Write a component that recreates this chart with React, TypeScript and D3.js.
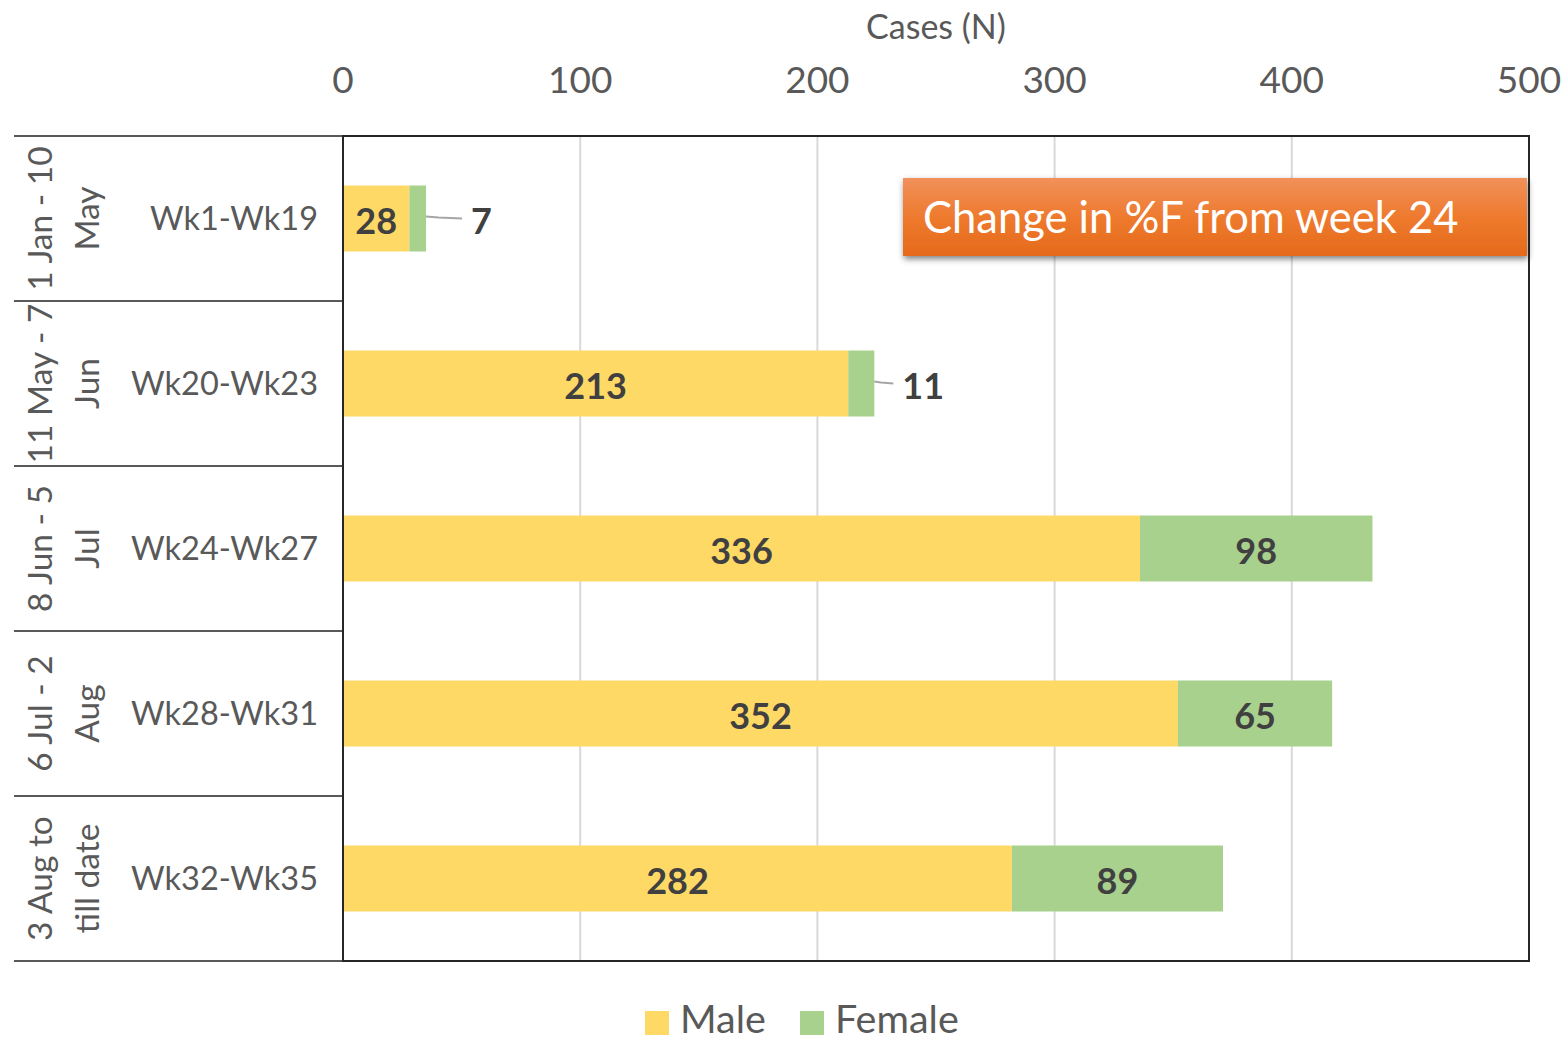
import React from "react";
import * as d3 from "d3";

const weeks = ["Wk1-Wk19", "Wk20-Wk23", "Wk24-Wk27", "Wk28-Wk31", "Wk32-Wk35"];
const periods = [
  ["1 Jan - 10", "May"],
  ["11 May - 7", "Jun"],
  ["8 Jun - 5", "Jul"],
  ["6 Jul - 2", "Aug"],
  ["3 Aug to", "till date"],
];
const male = [28, 213, 336, 352, 282];
const female = [7, 11, 98, 65, 89];
const ticks = [0, 100, 200, 300, 400, 500];
const seriesNames = ["Male", "Female"];
const colors = ["#FFD966", "#A9D18E"];
const annotation = "Change in %F from week 24";
// leader-line lengths (px) for labels placed outside their small segment
const leaderLen = [36, 19, 0, 0, 0];

const W = 1565, H = 1039;
const left = 343, right = 1529, top = 136, bottom = 961;
const FONT = "Lato, 'Open Sans', sans-serif";

export default function App() {
  const x = d3.scaleLinear().domain([0, 500]).range([left, right]);
  const y = d3.scaleBand().domain(weeks).range([top, bottom]).paddingInner(0.6).paddingOuter(0.3);
  const band = d3.scaleBand().domain(weeks).range([top, bottom]);
  const bh = y.bandwidth();
  return (
    <svg width={W} height={H} style={{ position: "absolute", left: 0, top: 0, background: "#fff" }} fontFamily={FONT}>
      <defs>
        <linearGradient id="og" x1="0" y1="0" x2="0" y2="1">
          <stop offset="0" stopColor="#F1915B" />
          <stop offset="0.5" stopColor="#EE7A2E" />
          <stop offset="1" stopColor="#E56A1A" />
        </linearGradient>
        <filter id="sh" x="-5%" y="-20%" width="110%" height="150%">
          <feGaussianBlur in="SourceAlpha" stdDeviation="3" />
          <feOffset dx="1" dy="3" result="b" />
          <feComponentTransfer><feFuncA type="linear" slope="0.5" /></feComponentTransfer>
          <feMerge><feMergeNode /><feMergeNode in="SourceGraphic" /></feMerge>
        </filter>
      </defs>
      {/* axis title */}
      <text x={936} y={39} textAnchor="middle" fontSize={34} fill="#595959">Cases (N)</text>
      {ticks.map((t) => (
        <g key={t}>
          <text x={x(t)} y={93} textAnchor="middle" fontSize={37} fill="#595959">{t}</text>
          {t > 0 && t < 500 && <line x1={x(t)} x2={x(t)} y1={top} y2={bottom} stroke="#D9D9D9" strokeWidth={2} />}
        </g>
      ))}
      {/* category separators */}
      {weeks.map((w, i) => (
        <g key={w}>
          <line x1={14} x2={left} y1={band(w)!} y2={band(w)!} stroke="#595959" strokeWidth={2} />
          <text x={318} y={band(w)! + band.bandwidth() / 2 + 11} textAnchor="end" fontSize={32.5} fill="#595959">{w}</text>
          <g transform={`translate(${0},${band(w)! + band.bandwidth() / 2})`}>
            <text transform="rotate(-90)" textAnchor="middle" fontSize={33.5} fill="#595959">
              <tspan x={0} y={52}>{periods[i][0]}</tspan>
              <tspan x={0} y={99}>{periods[i][1]}</tspan>
            </text>
          </g>
        </g>
      ))}
      <line x1={14} x2={left} y1={bottom} y2={bottom} stroke="#595959" strokeWidth={2} />
      {/* bars */}
      {weeks.map((w, i) => {
        const y0 = y(w)!;
        const cy = y0 + bh / 2;
        const xm = x(male[i]);
        const xf = x(male[i] + female[i]);
        const L = leaderLen[i];
        return (
          <g key={w}>
            <rect x={x(0)} y={y0} width={xm - x(0)} height={bh} fill={colors[0]} />
            <rect x={xm} y={y0} width={xf - xm} height={bh} fill={colors[1]} />
            <text x={(x(0) + xm) / 2} y={cy + 15} textAnchor="middle" fontSize={36} fontWeight="bold" fill="#404040">{male[i]}</text>
            {L > 0 ? (
              <g>
                <path d={`M${xf},${cy - 2} L${xf + L * 0.35},${cy - 1} L${xf + L},${cy}`} fill="none" stroke="#A6A6A6" strokeWidth={2} />
                <text x={xf + L + 9} y={cy + 15} textAnchor="start" fontSize={36} fontWeight="bold" fill="#404040">{female[i]}</text>
              </g>
            ) : (
              <text x={(xm + xf) / 2} y={cy + 15} textAnchor="middle" fontSize={36} fontWeight="bold" fill="#404040">{female[i]}</text>
            )}
          </g>
        );
      })}
      {/* plot border */}
      <rect x={left} y={top} width={right - left} height={bottom - top} fill="none" stroke="#262626" strokeWidth={2} />
      {/* annotation */}
      <g filter="url(#sh)">
        <rect x={903} y={178} width={624} height={78} fill="url(#og)" />
      </g>
      <text x={923} y={233} fontSize={43.5} fill="#fff">{annotation}</text>
      {/* legend */}
      {seriesNames.map((s, i) => {
        const lx = [645, 800][i];
        return (
          <g key={s}>
            <rect x={lx} y={1011} width={24} height={24} fill={colors[i]} />
            <text x={lx + 35} y={1033} fontSize={39.5} fill="#595959">{s}</text>
          </g>
        );
      })}
    </svg>
  );
}
